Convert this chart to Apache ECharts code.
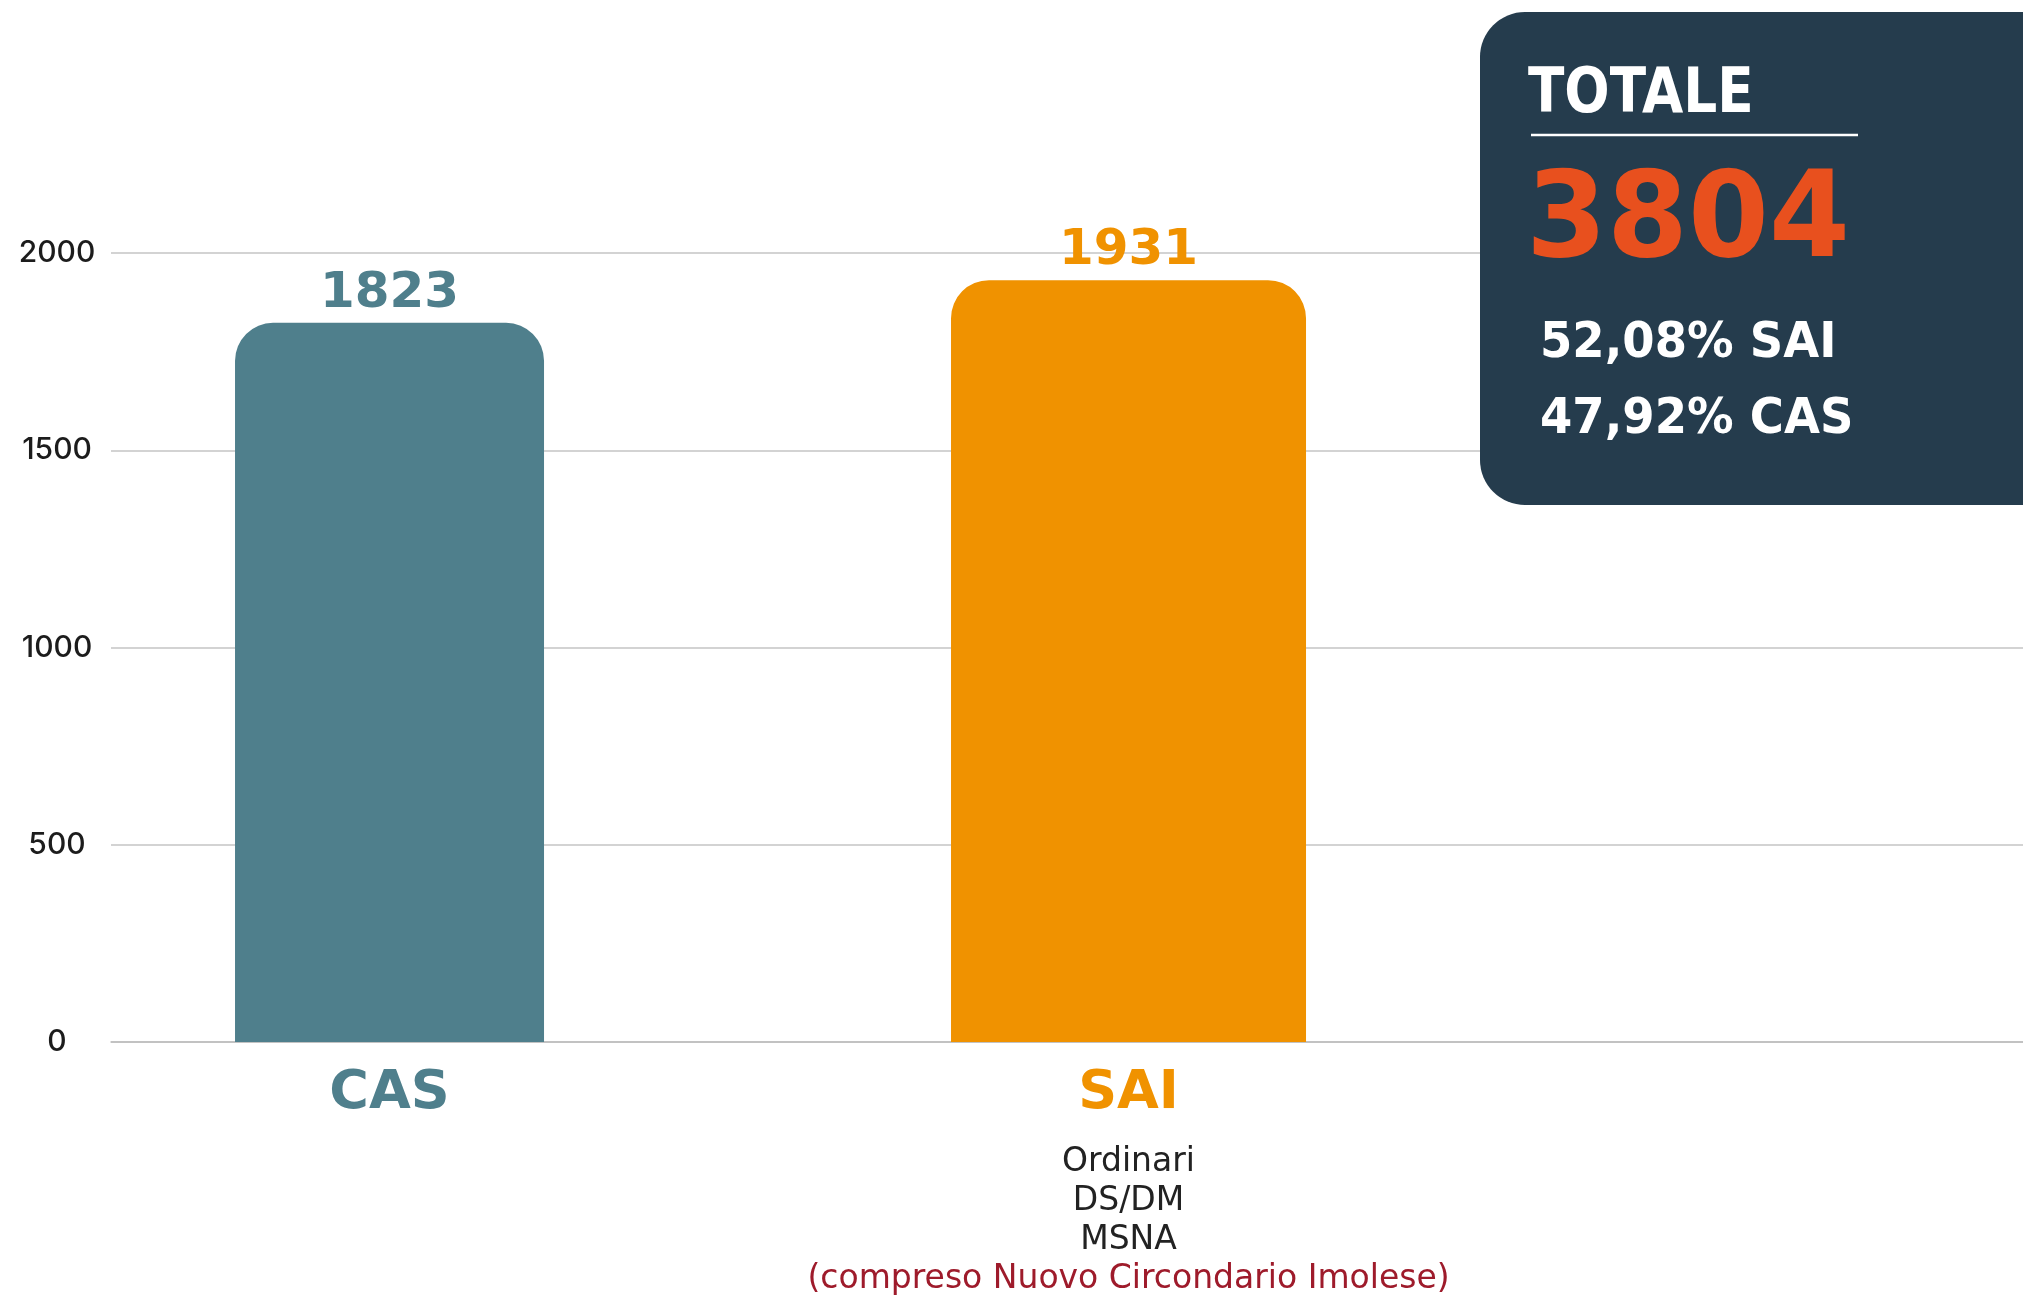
<!DOCTYPE html>
<html>
<head>
<meta charset="utf-8">
<script src="https://cdn.jsdelivr.net/npm/echarts@6/dist/echarts.min.js"></script>
<style>
  html, body { margin: 0; padding: 0; background: #fff; }
  #chart { width: 2023px; height: 1296px; }
</style>
</head>
<body>
<div id="chart"></div>
<script>
// data
const categories = ['CAS', 'SAI'];
const values = [1823, 1931];
const saiDetails = ['Ordinari', 'DS/DM', 'MSNA'];
const saiNote = '(compreso Nuovo Circondario Imolese)';
const totalLabel = 'TOTALE';
const totalValue = 3804;
const shareLines = ['52,08% SAI', '47,92% CAS'];
const yTicks = [0, 500, 1000, 1500, 2000];

// styles
const colors = { CAS: '#4f7f8c', SAI: '#f09200' };
const barWidths = { CAS: 309, SAI: 355 };
const heavy = 'DejaVu Sans';

const chart = echarts.init(document.getElementById('chart'));

// both bars sit on their own hidden value axis so they can have different widths
const xRange = { min: 0.6231, max: 3.2104 };

const xAxes = categories.map((name, i) => ({
  type: 'value',
  min: xRange.min,
  max: xRange.max,
  position: 'bottom',
  show: i === 0,
  splitLine: { show: false },
  axisTick: { show: false },
  axisLine: { show: true, lineStyle: { color: '#bdbdbd', width: 1.5 } },
  axisLabel: {
    show: i === 0,
    customValues: categories.map((c, k) => k + 1),
    margin: 3,
    formatter: function (v) {
      const k = Math.round(v) - 1;
      if (categories[k] === 'CAS') return '{cas|CAS}';
      if (categories[k] === 'SAI') {
        return '{sai|SAI}\n' + saiDetails.map(d => '{sub|' + d + '}').join('\n') + '\n{note|' + saiNote + '}';
      }
      return '';
    },
    rich: {
      cas: { fontFamily: heavy, fontWeight: 'bold', fontSize: 54, color: colors.CAS, lineHeight: 98 },
      sai: { fontFamily: heavy, fontWeight: 'bold', fontSize: 54, color: colors.SAI, lineHeight: 98 },
      sub: { fontFamily: 'DejaVu Sans', fontSize: 33, color: '#222', lineHeight: 39 },
      note: { fontFamily: 'DejaVu Sans', fontSize: 33, color: '#9e1b2b', lineHeight: 39 }
    }
  }
}));

const option = {
  animation: false,
  backgroundColor: '#fff',
  grid: { left: 111, right: 0, top: 253, bottom: 253 },
  xAxis: xAxes,
  yAxis: {
    type: 'value',
    min: yTicks[0],
    max: yTicks[yTicks.length - 1],
    interval: yTicks[1] - yTicks[0],
    axisLine: { show: false },
    axisTick: { show: false },
    splitLine: { lineStyle: { color: '#c4c4c4', width: 1.5 } },
    axisLabel: {
      formatter: v => String(v),
      fontFamily: 'Inter',
      fontWeight: 500,
      fontSize: 30,
      color: '#1c1c1c',
      align: 'center',
      margin: 54
    }
  },
  series: categories.map((name, i) => ({
    type: 'bar',
    name: name,
    xAxisIndex: i,
    barWidth: barWidths[name],
    data: [[i + 1, values[i]]],
    itemStyle: { color: colors[name], borderRadius: [38, 38, 0, 0] },
    label: {
      show: true,
      position: 'top',
      distance: 4,
      formatter: p => p.value[1],
      fontFamily: heavy,
      fontWeight: 'bold',
      fontSize: 50,
      color: colors[name]
    }
  })),
  graphic: [
    {
      type: 'rect',
      z: 100,
      shape: { x: 1480, y: 12, width: 600, height: 493, r: 45 },
      style: { fill: '#253c4d' }
    },
    {
      type: 'text',
      z: 101,
      x: 1528,
      y: 96,
      scaleX: 0.86,
      style: {
        text: totalLabel,
        fill: '#fff',
        fontFamily: heavy,
        fontWeight: 'bold',
        fontSize: 62,
        verticalAlign: 'middle'
      }
    },
    {
      type: 'line',
      z: 101,
      shape: { x1: 1531, y1: 135, x2: 1858, y2: 135 },
      style: { stroke: '#fff', lineWidth: 2.5 }
    },
    {
      type: 'text',
      z: 101,
      x: 1526,
      y: 225,
      scaleX: 0.97,
      style: {
        text: String(totalValue),
        fill: '#e8501e',
        fontFamily: heavy,
        fontWeight: 'bold',
        fontSize: 120,
        verticalAlign: 'middle'
      }
    }
  ].concat(shareLines.map((t, i) => ({
    type: 'text',
    z: 101,
    x: 1540,
    y: 344 + i * 76,
    scaleX: 0.93,
    style: {
      text: t,
      fill: '#fff',
      fontFamily: heavy,
      fontWeight: 'bold',
      fontSize: 50,
      verticalAlign: 'middle'
    }
  })))
};

chart.setOption(option);
</script>
</body>
</html>
